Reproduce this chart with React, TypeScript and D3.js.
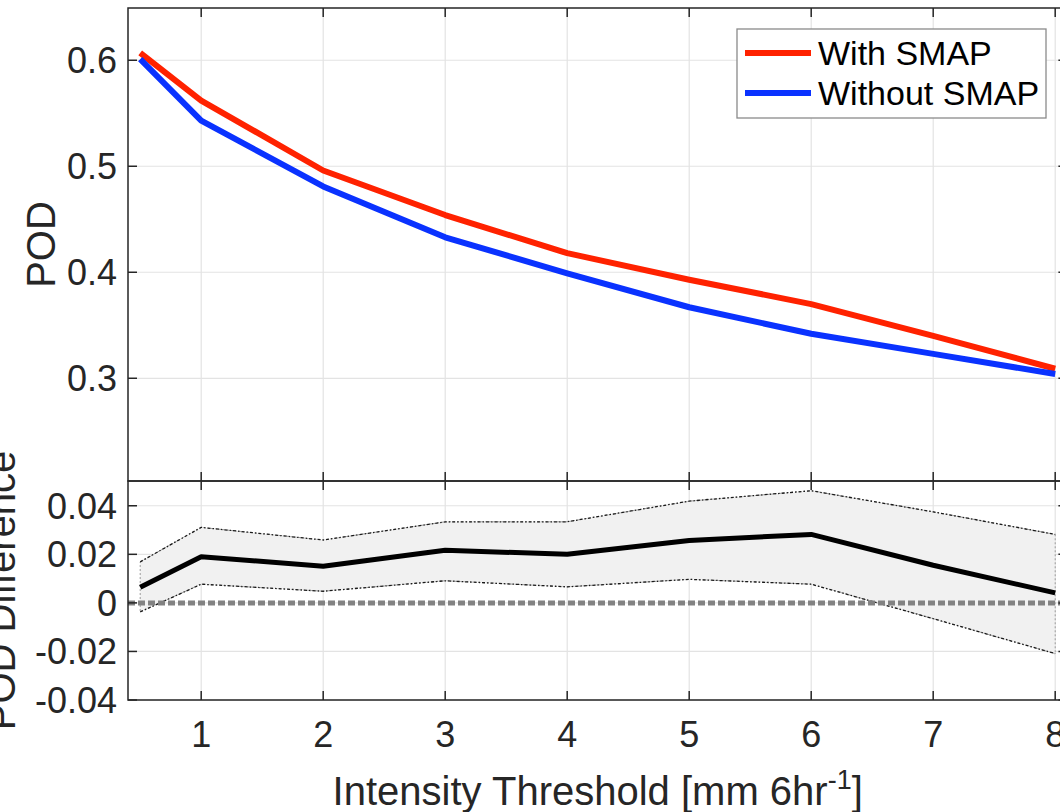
import React from "react";
import * as d3 from "d3";

// ---- data ----
const thresholds = [0.5, 1, 2, 3, 4, 5, 6, 7, 8];
const podWithSMAP = [0.607, 0.562, 0.496, 0.454, 0.418, 0.393, 0.370, 0.340, 0.309];
const podWithoutSMAP = [0.601, 0.543, 0.481, 0.433, 0.399, 0.367, 0.342, 0.323, 0.304];
const podDiff = [0.0064, 0.019, 0.0151, 0.0217, 0.0200, 0.0257, 0.0282, 0.0155, 0.0041];
const podDiffUpper = [0.0169, 0.0311, 0.0259, 0.0334, 0.0334, 0.0419, 0.0462, 0.0375, 0.0282];
const podDiffLower = [-0.0037, 0.0077, 0.0048, 0.0091, 0.0066, 0.0097, 0.0077, -0.0065, -0.0209];
const xTicks = [1, 2, 3, 4, 5, 6, 7, 8];
const yTopTicks = [0.3, 0.4, 0.5, 0.6];
const yTopTickLabels = ["0.3", "0.4", "0.5", "0.6"];
const yBotTicks = [-0.04, -0.02, 0, 0.02, 0.04];
const yBotTickLabels = ["-0.04", "-0.02", "0", "0.02", "0.04"];
const seriesNames = ["With SMAP", "Without SMAP"];

const W = 1060;
const H = 812;
const left = 128;
const right = 1067.4;
const topY0 = 8;
const midY = 481;
const botY1 = 700;
const FONT = "'Liberation Sans', Arial, Helvetica, sans-serif";
const AX = "#262626";
const GRID = "#e3e3e3";
const RED = "#ff2200";
const BLUE = "#0a32ff";
const TICK = 9;

export default function App() {
  const x = d3.scaleLinear().domain([0.4, 8.1]).range([left, right]);
  const yTop = d3.scaleLinear().domain([0.2031, 0.6493]).range([midY, topY0]);
  const yBot = d3.scaleLinear().domain([-0.04, 0.0502]).range([botY1, midY]);

  const idx = thresholds.map((_, i) => i);
  const lineTop = (vals: number[]) =>
    d3.line<number>().x((i) => x(thresholds[i])).y((i) => yTop(vals[i]))(idx) || "";
  const lineBot = (vals: number[]) =>
    d3.line<number>().x((i) => x(thresholds[i])).y((i) => yBot(vals[i]))(idx) || "";
  const band =
    d3
      .area<number>()
      .x((i) => x(thresholds[i]))
      .y0((i) => yBot(podDiffLower[i]))
      .y1((i) => yBot(podDiffUpper[i]))(idx) || "";
  const bandPoly = (() => {
    const pts: [number, number][] = [];
    idx.forEach((i) => pts.push([x(thresholds[i]), yBot(podDiffUpper[i])]));
    [...idx].reverse().forEach((i) => pts.push([x(thresholds[i]), yBot(podDiffLower[i])]));
    return "M" + pts.map((p) => p.join(",")).join("L") + "Z";
  })();

  return (
    <div style={{ position: "absolute", left: 0, top: 0, width: W, height: H }}>
      <svg width={W} height={H} style={{ display: "block", background: "#fff" }}>
        <defs>
          <clipPath id="clipTop">
            <rect x={left} y={topY0} width={right - left} height={midY - topY0} />
          </clipPath>
          <clipPath id="clipBot">
            <rect x={left} y={midY} width={right - left} height={botY1 - midY} />
          </clipPath>
        </defs>

        {/* ---------- TOP PANEL ---------- */}
        <g>
          {xTicks.map((t) => (
            <line key={"gvt" + t} x1={x(t)} x2={x(t)} y1={topY0} y2={midY} stroke={GRID} strokeWidth={1.2} />
          ))}
          {yTopTicks.map((t) => (
            <line key={"ght" + t} x1={left} x2={right} y1={yTop(t)} y2={yTop(t)} stroke={GRID} strokeWidth={1.2} />
          ))}
          <g clipPath="url(#clipTop)">
            <path d={lineTop(podWithSMAP)} fill="none" stroke={RED} strokeWidth={6} strokeLinejoin="round" />
            <path d={lineTop(podWithoutSMAP)} fill="none" stroke={BLUE} strokeWidth={6} strokeLinejoin="round" />
          </g>
          <rect x={left} y={topY0} width={right - left} height={midY - topY0} fill="none" stroke={AX} strokeWidth={1.5} />
          {xTicks.map((t) => (
            <g key={"tt" + t}>
              <line x1={x(t)} x2={x(t)} y1={topY0} y2={topY0 + TICK} stroke={AX} strokeWidth={1.5} />
              <line x1={x(t)} x2={x(t)} y1={midY} y2={midY - TICK} stroke={AX} strokeWidth={1.5} />
            </g>
          ))}
          {yTopTicks.map((t, i) => (
            <g key={"yt" + t}>
              <line x1={left} x2={left + TICK} y1={yTop(t)} y2={yTop(t)} stroke={AX} strokeWidth={1.5} />
              <line x1={right} x2={right - TICK} y1={yTop(t)} y2={yTop(t)} stroke={AX} strokeWidth={1.5} />
              <text x={left - 11} y={yTop(t) + 13} textAnchor="end" fontFamily={FONT} fontSize={36} fill={AX}>
                {yTopTickLabels[i]}
              </text>
            </g>
          ))}
          <text
            transform={`translate(55,${(topY0 + midY) / 2}) rotate(-90)`}
            textAnchor="middle"
            fontFamily={FONT}
            fontSize={40}
            fill={AX}
          >
            POD
          </text>

          {/* legend */}
          <rect x={737} y={29} width={309} height={89} fill="#fff" stroke="#8a8a8a" strokeWidth={1.3} />
          <line x1={745} x2={811} y1={53} y2={53} stroke={RED} strokeWidth={6} />
          <line x1={745} x2={811} y1={93} y2={93} stroke={BLUE} strokeWidth={6} />
          <text x={818} y={65} fontFamily={FONT} fontSize={34} fill="#000">{seriesNames[0]}</text>
          <text x={818} y={105} fontFamily={FONT} fontSize={34} fill="#000">{seriesNames[1]}</text>
        </g>

        {/* ---------- BOTTOM PANEL ---------- */}
        <g>
          {xTicks.map((t) => (
            <line key={"gvb" + t} x1={x(t)} x2={x(t)} y1={midY} y2={botY1} stroke={GRID} strokeWidth={1.2} />
          ))}
          {yBotTicks.map((t) => (
            <line key={"ghb" + t} x1={left} x2={right} y1={yBot(t)} y2={yBot(t)} stroke={GRID} strokeWidth={1.2} />
          ))}
          <g clipPath="url(#clipBot)">
            <path d={band} fill="#f1f1f1" stroke="none" />
            <path d={bandPoly} fill="none" stroke="#9a9a9a" strokeWidth={1} strokeDasharray="2,2" />
            <path d={lineBot(podDiffUpper)} fill="none" stroke="#1a1a1a" strokeWidth={1.3} strokeDasharray="3,2,1.5,2" />
            <path d={lineBot(podDiffLower)} fill="none" stroke="#1a1a1a" strokeWidth={1.3} strokeDasharray="3,2,1.5,2" />
            <line x1={left} x2={right} y1={yBot(0)} y2={yBot(0)} stroke="#828282" strokeWidth={5} strokeDasharray="7,3" />
            <path d={lineBot(podDiff)} fill="none" stroke="#000" strokeWidth={5} strokeLinejoin="round" />
          </g>
          <rect x={left} y={midY} width={right - left} height={botY1 - midY} fill="none" stroke={AX} strokeWidth={1.5} />
          {xTicks.map((t) => (
            <g key={"bt" + t}>
              <line x1={x(t)} x2={x(t)} y1={midY} y2={midY + TICK} stroke={AX} strokeWidth={1.5} />
              <line x1={x(t)} x2={x(t)} y1={botY1} y2={botY1 - TICK} stroke={AX} strokeWidth={1.5} />
              <text x={x(t)} y={botY1 + 47} textAnchor="middle" fontFamily={FONT} fontSize={36} fill={AX}>
                {String(t)}
              </text>
            </g>
          ))}
          {yBotTicks.map((t, i) => (
            <g key={"ybt" + t}>
              <line x1={left} x2={left + TICK} y1={yBot(t)} y2={yBot(t)} stroke={AX} strokeWidth={1.5} />
              <line x1={right} x2={right - TICK} y1={yBot(t)} y2={yBot(t)} stroke={AX} strokeWidth={1.5} />
              <text x={left - 11} y={yBot(t) + 13} textAnchor="end" fontFamily={FONT} fontSize={36} fill={AX}>
                {yBotTickLabels[i]}
              </text>
            </g>
          ))}
          <text
            transform={`translate(15,${(midY + botY1) / 2}) rotate(-90)`}
            textAnchor="middle"
            fontFamily={FONT}
            fontSize={40}
            fill={AX}
          >
            POD Difference
          </text>
          <text x={(left + right) / 2} y={805} textAnchor="middle" fontFamily={FONT} fontSize={40} fill={AX}>
            Intensity Threshold [mm 6hr
            <tspan fontSize={27} dy={-16}>-1</tspan>
            <tspan dy={16}>]</tspan>
          </text>
        </g>
      </svg>
    </div>
  );
}
